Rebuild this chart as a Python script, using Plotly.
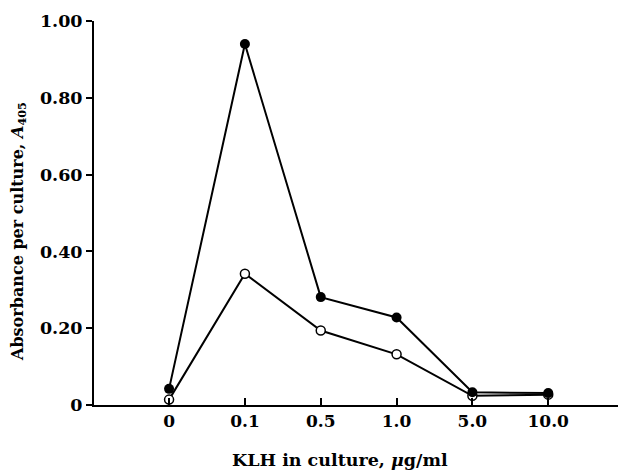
import plotly.graph_objects as go

categories = ["0", "0.1", "0.5", "1.0", "5.0", "10.0"]
filled_values = [0.042, 0.940, 0.281, 0.228, 0.033, 0.031]
open_values = [0.014, 0.342, 0.194, 0.132, 0.024, 0.027]
y_tickvals = [0, 0.2, 0.4, 0.6, 0.8, 1.0]
y_ticktext = ["0", "0.20", "0.40", "0.60", "0.80", "1.00"]

xpos = list(range(len(categories)))
FONT = "DejaVu Serif"

fig = go.Figure()
fig.add_trace(go.Scatter(
    x=xpos, y=open_values, mode="lines+markers",
    line=dict(color="black", width=2),
    marker=dict(symbol="circle", size=9, color="white",
                line=dict(color="black", width=1.5)),
    showlegend=False))
fig.add_trace(go.Scatter(
    x=xpos, y=filled_values, mode="lines+markers",
    line=dict(color="black", width=2),
    marker=dict(symbol="circle", size=10, color="black"),
    showlegend=False))

fig.update_layout(
    width=621, height=471,
    margin=dict(l=94, r=3, t=21, b=66),
    paper_bgcolor="white", plot_bgcolor="white",
    font=dict(family=FONT, color="black", size=17),
    xaxis=dict(
        range=[-0.99, 5.92], tickvals=xpos, ticktext=["<b>%s</b>" % c for c in categories],
        showline=True, linecolor="black", linewidth=2,
        ticks="inside", ticklen=7, tickwidth=1.5, tickcolor="black",
        showgrid=False, zeroline=False,
        tickfont=dict(family=FONT, size=17),
    ),
    yaxis=dict(
        range=[0, 1.0], tickvals=y_tickvals, ticktext=["<b>%s</b>" % t for t in y_ticktext],
        showline=True, linecolor="black", linewidth=2,
        ticks="outside", ticklen=6, tickwidth=1.5, tickcolor="black",
        showgrid=False, zeroline=False,
        tickfont=dict(family=FONT, size=17.5),
    ),
    annotations=[
        dict(text="<b>KLH in culture, <i>μ</i>g/ml</b>", xref="paper", yref="paper",
             x=(340 - 94) / (618 - 94), y=-(460 - 405) / 384, xanchor="center", yanchor="middle",
             showarrow=False, font=dict(family=FONT, size=17.5)),
        dict(text="<b>Absorbance per culture, <i>A</i><sub>405</sub></b>", xref="paper", yref="paper",
             x=-(94 - 18) / (618 - 94), y=(405 - 232) / 384, xanchor="center", yanchor="middle",
             textangle=-90, showarrow=False, font=dict(family=FONT, size=16)),
    ],
)

fig.write_html("out.html", config={"displayModeBar": False},
               post_script="document.body.style.margin='0';document.body.style.overflow='hidden';")
